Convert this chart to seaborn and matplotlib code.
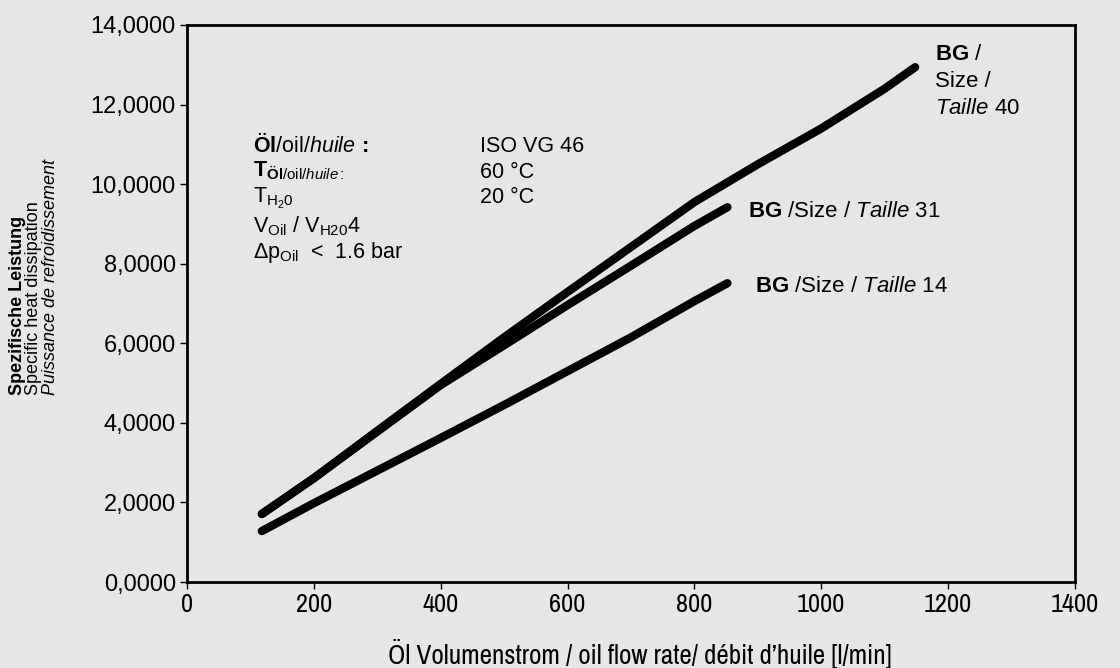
import matplotlib
matplotlib.use("Agg")
import matplotlib.pyplot as plt
import seaborn as sns
import pandas as pd
from matplotlib import font_manager
from matplotlib.ticker import FuncFormatter

# ---- data ----
x_size40 = [118, 200, 300, 400, 500, 600, 700, 800, 900, 1000, 1100, 1148]
y_size40 = [1.71, 2.61, 3.80, 4.98, 6.15, 7.29, 8.42, 9.55, 10.50, 11.40, 12.40, 12.94]
x_size31 = [118, 200, 300, 400, 500, 600, 700, 800, 852]
y_size31 = [1.71, 2.61, 3.78, 4.95, 5.95, 6.96, 7.95, 8.95, 9.42]
x_size14 = [118, 200, 300, 400, 500, 600, 700, 800, 852]
y_size14 = [1.28, 1.98, 2.80, 3.62, 4.45, 5.30, 6.15, 7.06, 7.51]
series_names = ["Size 40", "Size 31", "Size 14"]

x_ticks = [0, 200, 400, 600, 800, 1000, 1200, 1400]
y_ticks = [0, 2, 4, 6, 8, 10, 12, 14]

xlabel_text = "Öl Volumenstrom / oil flow rate/ débit d’huile [l/min]"
ylabel_lines = ["Spezifische Leistung", "Specific heat dissipation", "Puissance de refroidissement"]

info_left = [r"$\mathbf{Öl}$/oil/$\mathit{huile}\,\mathbf{:}$",
             r"$\mathbf{T}_{\mathbf{Öl}\mathrm{/oil/}\mathit{huile:}}$",
             r"T$_{\mathrm{H}_{2}\mathrm{0}}$",
             r"V$_{\mathrm{Oil}}$ / V$_{\mathrm{H20}}$4",
             r"Δp$_{\mathrm{Oil}}$  <  1.6 bar"]
info_right = ["ISO VG 46", "60 °C", "20 °C"]

label_40 = [r"$\mathbf{BG}$ /", "Size /", r"$\mathit{Taille}$ 40"]
label_31 = r"$\mathbf{BG}$ /Size / $\mathit{Taille}$ 31"
label_14 = r"$\mathbf{BG}$ /Size / $\mathit{Taille}$ 14"

# ---- style ----
sns.set_theme(style="white")
BG = "#e6e6e6"
plt.rcParams["font.family"] = ["Liberation Sans", "DejaVu Sans"]
plt.rcParams["text.color"] = "black"
plt.rcParams["xtick.labelcolor"] = "black"
plt.rcParams["ytick.labelcolor"] = "black"
plt.rcParams["mathtext.fontset"] = "custom"
plt.rcParams["mathtext.rm"] = "Liberation Sans"
plt.rcParams["mathtext.it"] = "Liberation Sans:italic"
plt.rcParams["mathtext.bf"] = "Liberation Sans:bold"
plt.rcParams["mathtext.sf"] = "Liberation Sans"

# pick a narrow/condensed face for the x axis if one is installed
narrow_font = None
for f in font_manager.fontManager.ttflist:
    if ("Narrow" in f.name or "Condensed" in f.name) and f.style == "normal" and f.weight in (400, "normal", "regular"):
        narrow_font = font_manager.FontProperties(fname=f.fname)
        break
if narrow_font is None:
    for f in font_manager.fontManager.ttflist:
        if f.stretch in ("condensed", "semi-condensed", 500 - 125) and f.style == "normal" \
                and f.weight in (400, "normal", "regular"):
            narrow_font = font_manager.FontProperties(fname=f.fname)
            break

W, H = 1120, 668
fig = plt.figure(figsize=(W / 100, H / 100), dpi=100, facecolor=BG)
ax = fig.add_axes([187 / W, 1 - 582 / H, (1075 - 187) / W, (582 - 25) / H])
ax.set_facecolor(BG)

df = pd.concat([
    pd.DataFrame({"x": x_size40, "y": y_size40, "s": series_names[0]}),
    pd.DataFrame({"x": x_size31, "y": y_size31, "s": series_names[1]}),
    pd.DataFrame({"x": x_size14, "y": y_size14, "s": series_names[2]}),
])
sns.lineplot(data=df, x="x", y="y", hue="s", units="s", estimator=None, sort=False,
             palette=["black"] * 3, linewidth=6.0, legend=False, ax=ax,
             solid_capstyle="round", solid_joinstyle="round")

ax.set_xlim(0, 1400)
ax.set_ylim(0, 14)
ax.set_xticks(x_ticks)
ax.set_yticks(y_ticks)
ax.yaxis.set_major_formatter(FuncFormatter(lambda v, p: f"{v:.4f}".replace(".", ",")))
for sp in ax.spines.values():
    sp.set_visible(True)
    sp.set_color("black")
    sp.set_linewidth(2)
ax.tick_params(axis="both", direction="out", length=5, width=1, color="black",
               labelcolor="black", bottom=True, left=True)
ax.tick_params(axis="y", labelsize=17, pad=3)
ax.tick_params(axis="x", labelsize=17, pad=3)
ax.set_xlabel("")
ax.set_ylabel("")

if narrow_font is not None:
    for lab in ax.get_xticklabels():
        lab.set_fontproperties(narrow_font)
        lab.set_fontsize(19)
    xl_kw = dict(fontproperties=narrow_font, fontsize=19.5)
else:
    xl_kw = dict(fontsize=16.5)


def P(x, y):
    return x / W, 1 - y / H


fig.text(*P(640, 664), xlabel_text, ha="center", va="baseline", color="black", **xl_kw)

ystyles = [dict(weight="bold"), dict(), dict(style="italic")]
for xp, txt, st in zip([18, 34, 51], ylabel_lines, ystyles):
    fig.text(*P(xp, 395), txt, rotation=90, ha="center", va="bottom", fontsize=13,
             color="black", **st)

for yb, t in zip([152, 176, 203, 232, 258], info_left):
    fig.text(*P(253, yb), t, fontsize=15.5, ha="left", va="baseline", color="black")
for yb, t in zip([152, 178, 203], info_right):
    fig.text(*P(480, yb), t, fontsize=15.5, ha="left", va="baseline", color="black")

for yb, t in zip([60, 87, 114], label_40):
    fig.text(*P(935, yb), t, fontsize=16, ha="left", va="baseline", color="black")
fig.text(*P(748, 217), label_31, fontsize=16, ha="left", va="baseline", color="black")
fig.text(*P(755, 292), label_14, fontsize=16, ha="left", va="baseline", color="black")

fig.savefig("out.png", dpi=100, facecolor=BG)
